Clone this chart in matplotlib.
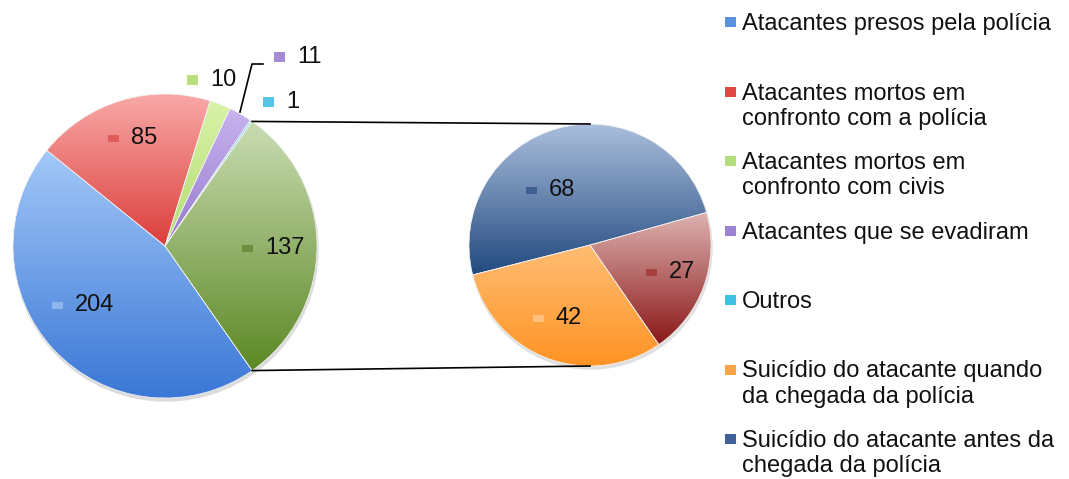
import numpy as np
import matplotlib
matplotlib.use("Agg")
import matplotlib.pyplot as plt
from matplotlib.colors import LinearSegmentedColormap
from matplotlib.patches import Rectangle, Circle

plt.rcParams['font.family'] = ['Liberation Sans', 'DejaVu Sans']

# main pie (the last value is the slice broken out into the second pie)
main_vals = [204, 85, 10, 11, 1, 137]
main_top = ['#a3c8f8', '#f8a9a7', '#d9f2a8', '#c8b4ee', '#93def2', '#cadcb3']
main_bottom = ['#3a77d6', '#dc3e3c', '#b3dd72', '#9679cf', '#36bade', '#5c8824']
main_keys = ['#8db6ef', '#e25a58', '#b9e07c', '#a58ad6', '#55c6e6', '#6f8f3e']

# second pie
sec_vals = [68, 42, 27]
sec_top = ['#aabedc', '#ffbd73', '#ddb3b1']
sec_bottom = ['#22497f', '#ff9324', '#8a1717']
sec_keys = ['#3f5f92', '#ffc080', '#a8403e']

legend_labels = [
    'Atacantes presos pela polícia',
    'Atacantes mortos em\nconfronto com a polícia',
    'Atacantes mortos em\nconfronto com civis',
    'Atacantes que se evadiram',
    'Outros',
    'Suicídio do atacante quando\nda chegada da polícia',
    'Suicídio do atacante antes da\nchegada da polícia',
]
legend_colors = ['#5a90e0', '#e04846', '#b3df7a', '#9b82d2', '#3ec1e2', '#ffa348', '#3f6098']

W, H = 1069, 479
fig = plt.figure(figsize=(W / 100, H / 100), dpi=100)
ax = fig.add_axes([0, 0, 1, 1])


def gradient_fill(wedge, top, bottom):
    cmap = LinearSegmentedColormap.from_list('g', [top, bottom])
    bb = wedge.get_path().get_extents(wedge.get_patch_transform())
    grad = np.linspace(0, 1, 256).reshape(-1, 1)
    im = ax.imshow(grad, cmap=cmap, aspect='auto', origin='upper',
                   extent=[bb.x0, bb.x1, bb.y0, bb.y1], zorder=2)
    im.set_clip_path(wedge)
    wedge.set_facecolor('none')
    wedge.set_zorder(3)


main_c = (165, 233)
main_r = 152
sec_c = (590, 234)
sec_r = 121

# soft shadows
ax.add_patch(Circle((main_c[0] + 1, main_c[1] - 3), main_r, color='#dcdcdc', zorder=1))
ax.add_patch(Circle((sec_c[0] + 1, sec_c[1] - 3), sec_r, color='#e0e0e0', zorder=1))

start = -main_vals[-1] / sum(main_vals) * 180
wedges, _ = ax.pie(main_vals, center=main_c, radius=main_r, startangle=start,
                   counterclock=False, frame=True,
                   wedgeprops=dict(edgecolor='#f4f4f4', linewidth=0.5))
for w, t, b in zip(wedges, main_top, main_bottom):
    gradient_fill(w, t, b)

sec_start = 15.6
wedges2, _ = ax.pie(sec_vals, center=sec_c, radius=sec_r, startangle=sec_start,
                    counterclock=True, frame=True,
                    wedgeprops=dict(edgecolor='#f4f4f4', linewidth=0.5))
for w, t, b in zip(wedges2, sec_top, sec_bottom):
    gradient_fill(w, t, b)

# connector lines between the pies
big = wedges[-1]
for ang, sy in ((big.theta2, 1), (big.theta1, -1)):
    a = np.deg2rad(ang)
    x0 = main_c[0] + main_r * np.cos(a)
    y0 = main_c[1] + main_r * np.sin(a)
    ax.plot([x0, sec_c[0]], [y0, sec_c[1] + sy * sec_r], color='black', lw=1.2, zorder=4)

# data labels: small key square + number (positions in image pixels)
label_pos = [(57, 305), (113, 138), (192, 80), (279, 57), (268, 102), (247, 248)]
sec_label_pos = [(531, 190), (538, 318), (651, 272)]
fs = 17


def data_label(x, y_img, val, color, kw=11, kh=7):
    y = H - y_img
    ax.add_patch(Rectangle((x - kw / 2, y - kh / 2), kw, kh, color=color, zorder=5, lw=0))
    ax.text(x + 18, y, str(val), fontsize=fs, va='center', ha='left', color='#111111', zorder=6)


for (x, y), v, c in zip(label_pos, main_vals, main_keys):
    kh = 10 if v < 20 else 7
    data_label(x, y, v, c, kh=kh)
for (x, y), v, c in zip(sec_label_pos, sec_vals, sec_keys):
    data_label(x, y, v, c)

# leader line for the small "11" slice
ax.plot([240, 252, 263], [H - 112, H - 64, H - 64], color='black', lw=1.2, zorder=4)

# legend
lx, ly0, step = 731, 22, 69.5
for i, (lab, col) in enumerate(zip(legend_labels, legend_colors)):
    y = H - (ly0 + i * step)
    ax.add_patch(Rectangle((lx - 6, y - 5), 11, 10, color=col, lw=0, zorder=5))
    ax.text(lx + 11, y + 9, lab, fontsize=fs, va='top', ha='left', color='#111111',
            linespacing=1.2)

ax.set_xlim(0, W)
ax.set_ylim(0, H)
ax.set_aspect('auto')
ax.axis('off')

fig.savefig('out.png', dpi=100)
